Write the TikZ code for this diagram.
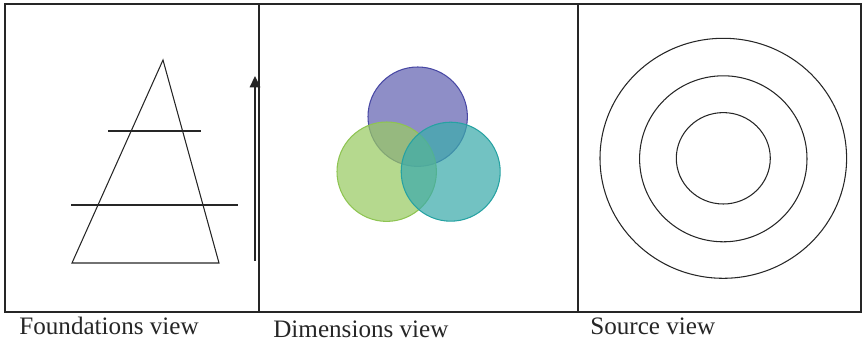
\documentclass[tikz,border=0pt]{standalone}
\usepackage{fontspec}
\setmainfont{Liberation Serif}
\usetikzlibrary{arrows.meta,positioning}
\definecolor{venblue}{RGB}{72,72,164}
\definecolor{vengreen}{RGB}{142,196,82}
\definecolor{venteal}{RGB}{38,162,162}

\begin{document}
\begin{tikzpicture}[x=0.02cm, y=-0.02cm,
    frame/.style={line width=1pt, black!85},
    outline/.style={line width=0.6pt, black!85},
    venn/.style={line width=0.6pt, fill opacity=0.72},
    caption/.style={anchor=base west, font=\fontsize{14.3}{16}\selectfont, black!85, inner sep=0pt},
    arr/.style={-{Triangle[length=6.5pt, width=6pt]}, line width=0.9pt, black!85}
]
    \useasboundingbox (0,0) rectangle (863,344);
    % panels
    \draw[frame] (5,4) rectangle (861,312);
    \draw[frame] (259,4) -- (259,312);
    \draw[frame] (578,4) -- (578,312);
    % foundations view
    \draw[outline] (163,60) -- (219,263) -- (72,263) -- cycle;
    \draw[outline] (108,131) -- (201,131);
    \draw[outline] (71,205) -- (238,205);
    \coordinate (up0) at (255,261);
    \coordinate (up1) at (255,76);
    \draw[arr] (up0) -- (up1);
    % dimensions view
    \draw[venn, draw=venblue, fill=venblue!85] (417.7,116.7) circle[radius=49.7];
    \draw[venn, draw=vengreen, fill=vengreen!90] (386.7,171.7) circle[radius=49.7];
    \draw[venn, draw=venteal, fill=venteal!90] (450.7,171.7) circle[radius=49.5];
    % source view
    \draw[outline] (723.3,158.3) ellipse[x radius=123.3, y radius=120];
    \draw[outline] (723.3,158.8) ellipse[x radius=83.7, y radius=83];
    \draw[outline] (723.3,158.3) ellipse[x radius=47, y radius=45.7];
    % captions
    \node[caption] (fcap) at (19,335) {Foundations view};
    \node[caption] (dcap) at (273,338) {Dimensions view};
    \node[caption] (scap) at (590,335) {Source view};
\end{tikzpicture}
\end{document}
